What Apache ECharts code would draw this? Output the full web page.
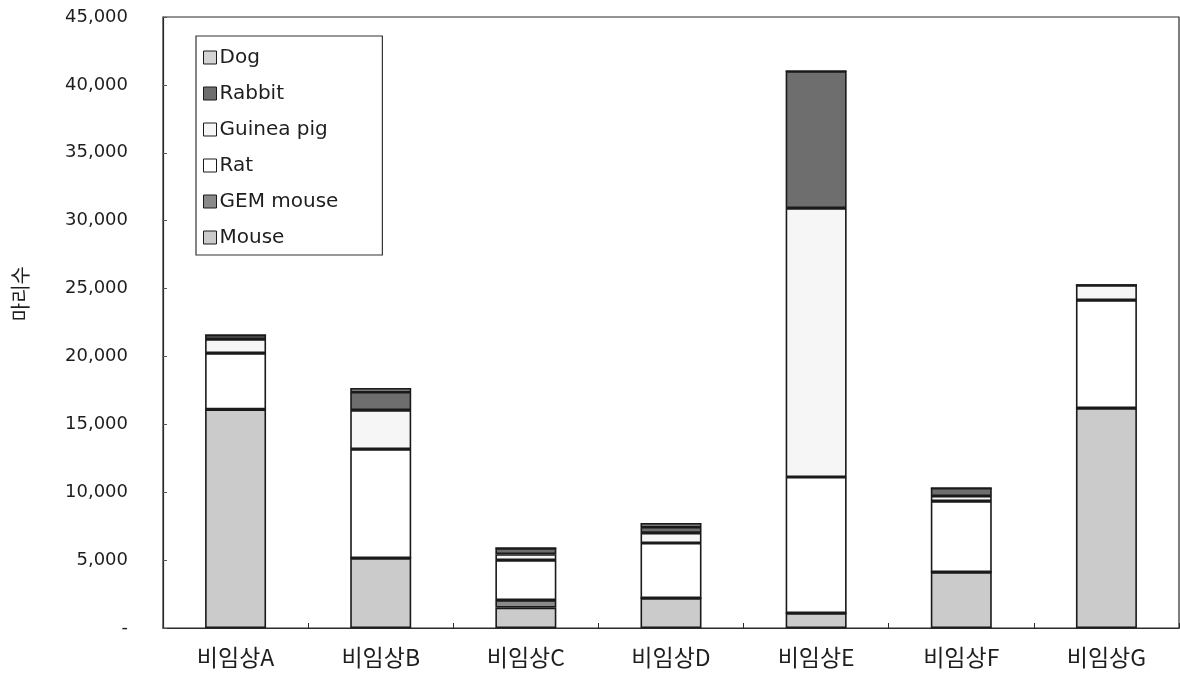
<!DOCTYPE html>
<html>
<head>
<meta charset="utf-8">
<title>비임상 동물 사용 현황</title>
<script src="https://cdn.jsdelivr.net/npm/echarts@6/dist/echarts.min.js"></script>
<style>
  html, body { margin: 0; padding: 0; background: #fff; }
  #chart { width: 1180px; height: 679px; }
</style>
</head>
<body>
<div id="chart"></div>
<script>
// Categories (facilities) and animal counts per species, stacked bottom to top
const categories = ['비임상A', '비임상B', '비임상C', '비임상D', '비임상E', '비임상F', '비임상G'];
const mouse     = [16100, 5150, 1500, 2200, 1100, 4120, 16200];
const gemMouse  = [0, 0, 560, 0, 0, 0, 0];
const rat       = [4150, 8030, 2940, 4060, 10020, 5230, 7950];
const guineaPig = [1030, 2870, 440, 740, 19810, 370, 1100];
const rabbit    = [300, 1330, 440, 440, 10090, 590, 0];
const dog       = [0, 290, 0, 290, 0, 0, 0];

const yTicks = { min: 0, max: 45000, step: 5000 };
const legendOrder = ['Dog', 'Rabbit', 'Guinea pig', 'Rat', 'GEM mouse', 'Mouse'];
const yTitle = '마리수';

const latinFont = '"DejaVu Sans", "Noto Sans CJK KR", sans-serif';
const hangulFont = '"Noto Sans CJK KR", "DejaVu Sans", sans-serif';

function layer(name, data, color) {
  return {
    name: name,
    type: 'bar',
    stack: 'total',
    barWidth: 61,
    data: data,
    itemStyle: { color: color, borderColor: '#1a1a1a', borderWidth: 1.6 },
    emphasis: { disabled: true }
  };
}

const chart = echarts.init(document.getElementById('chart'));
chart.setOption({
  animation: false,
  backgroundColor: '#ffffff',
  grid: {
    left: 163, top: 17, width: 1016, height: 611,
    show: true, borderColor: '#2a2a2a', borderWidth: 1.2, backgroundColor: 'transparent'
  },
  legend: {
    data: legendOrder,
    orient: 'vertical',
    left: 196, top: 36,
    padding: [10, 44, 6, 7],
    itemGap: 13,
    itemWidth: 13, itemHeight: 13,
    icon: 'rect',
    backgroundColor: '#ffffff',
    borderColor: '#333', borderWidth: 1.2,
    borderRadius: 0,
    textStyle: { fontFamily: latinFont, fontSize: 20, lineHeight: 23, color: '#1e1e1e', padding: [0, 0, 0, -2] },
    itemStyle: { borderColor: '#1a1a1a', borderWidth: 1 }
  },
  graphic: [{
    type: 'text',
    left: 10, top: 266,
    rotation: Math.PI / 2,
    style: { text: yTitle, font: '20px ' + hangulFont, fill: '#1e1e1e' }
  }],
  xAxis: {
    type: 'category',
    data: categories,
    axisLine: { lineStyle: { color: '#2a2a2a', width: 1.2 } },
    axisTick: { show: true, inside: true, length: 5, lineStyle: { color: '#2a2a2a' } },
    axisLabel: { fontFamily: hangulFont, fontSize: 23, color: '#1e1e1e', margin: 18 }
  },
  yAxis: {
    type: 'value',
    min: yTicks.min, max: yTicks.max, interval: yTicks.step,
    splitLine: { show: false },
    axisLine: { show: true, lineStyle: { color: '#2a2a2a', width: 1.2 } },
    axisTick: { show: true, inside: true, length: 4, lineStyle: { color: '#555' } },
    axisLabel: {
      fontFamily: latinFont, fontSize: 18, color: '#1e1e1e', margin: 35,
      formatter: v => v === 0 ? '-' : v.toLocaleString('en-US')
    }
  },
  series: [
    layer('Mouse', mouse, '#cbcbcb'),
    layer('GEM mouse', gemMouse, '#8a8a8a'),
    layer('Rat', rat, '#ffffff'),
    layer('Guinea pig', guineaPig, '#f6f6f6'),
    layer('Rabbit', rabbit, '#6e6e6e'),
    layer('Dog', dog, '#d4d4d4')
  ]
});
</script>
</body>
</html>
